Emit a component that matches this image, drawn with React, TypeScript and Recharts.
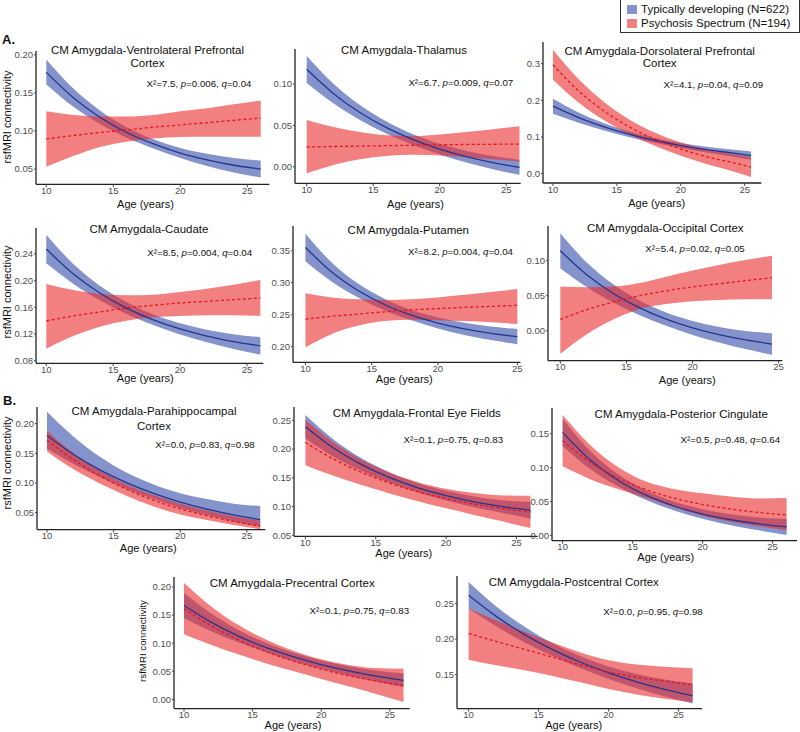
import React from 'react';
import { ComposedChart, Area, Line, XAxis, YAxis } from 'recharts';

const FONT = '"Liberation Sans", Arial, Helvetica, sans-serif';
const TD_FILL = '#344BAA';
const PS_FILL = '#EB2B2B';
const TD_LINE = '#24358C';
const PS_LINE = '#E8141C';

const ages = [10, 12, 14, 16, 18, 20, 22, 24, 26];
const agesDlpfc = [10, 12, 14, 16, 18, 20, 22, 24, 25.5];

// A. CM Amygdala-Ventrolateral Prefrontal Cortex
const vlpfcTdMean = [0.177, 0.144, 0.118, 0.098, 0.083, 0.071, 0.062, 0.055, 0.05];
const vlpfcTdLo = [0.161, 0.132, 0.109, 0.091, 0.077, 0.0645, 0.054, 0.0455, 0.039];
const vlpfcTdHi = [0.194, 0.156, 0.127, 0.105, 0.089, 0.0775, 0.07, 0.0645, 0.061];
const vlpfcPsMean = [0.0895, 0.094, 0.098, 0.1015, 0.105, 0.108, 0.111, 0.114, 0.117];
const vlpfcPsLo = [0.053, 0.067, 0.079, 0.086, 0.09, 0.092, 0.0925, 0.0925, 0.0925];
const vlpfcPsHi = [0.126, 0.121, 0.119, 0.119, 0.121, 0.126, 0.13, 0.135, 0.14];

// Thalamus
const thalTdMean = [0.1178, 0.0887, 0.0656, 0.0473, 0.0328, 0.0213, 0.0122, 0.005, -0.0007];
const thalTdLo = [0.1013, 0.0767, 0.0566, 0.0398, 0.0263, 0.0148, 0.0052, -0.003, -0.0097];
const thalTdHi = [0.134, 0.1007, 0.0746, 0.0548, 0.0393, 0.0278, 0.0192, 0.013, 0.0083];
const thalPsMean = [0.024, 0.0245, 0.025, 0.0255, 0.026, 0.0265, 0.027, 0.0272, 0.0275];
const thalPsLo = [-0.008, 0.002, 0.009, 0.013, 0.0145, 0.0135, 0.0115, 0.009, 0.0065];
const thalPsHi = [0.0564, 0.048, 0.042, 0.038, 0.037, 0.039, 0.042, 0.0455, 0.049];

// Dorsolateral Prefrontal Cortex
const dlpfcTdMean = [0.184, 0.153, 0.1277, 0.1071, 0.0903, 0.0766, 0.0655, 0.0564, 0.049];
const dlpfcTdLo = [0.1635, 0.139, 0.1177, 0.0991, 0.0833, 0.0696, 0.0575, 0.0469, 0.0375];
const dlpfcTdHi = [0.2045, 0.167, 0.1377, 0.1151, 0.0973, 0.0836, 0.0735, 0.0659, 0.0605];
const dlpfcPsMean = [0.297, 0.2258, 0.1703, 0.127, 0.0932, 0.0669, 0.0464, 0.0304, 0.0179];
const dlpfcPsLo = [0.256, 0.1938, 0.1453, 0.107, 0.0752, 0.0489, 0.0264, 0.0074, -0.0091];
const dlpfcPsHi = [0.338, 0.2578, 0.1953, 0.147, 0.1112, 0.0849, 0.0664, 0.0534, 0.0449];

// Caudate
const caudTdMean = [0.2475, 0.2104, 0.1815, 0.1589, 0.1413, 0.1276, 0.1169, 0.1086, 0.1021];
const caudTdLo = [0.226, 0.1954, 0.1705, 0.1499, 0.1333, 0.1191, 0.1074, 0.0976, 0.0891];
const caudTdHi = [0.269, 0.2254, 0.1925, 0.1679, 0.1493, 0.1361, 0.1264, 0.1196, 0.1151];
const caudPsMean = [0.1395, 0.147, 0.153, 0.159, 0.163, 0.1665, 0.169, 0.1715, 0.174];
const caudPsLo = [0.098, 0.117, 0.131, 0.14, 0.145, 0.147, 0.148, 0.148, 0.147];
const caudPsHi = [0.195, 0.186, 0.18, 0.178, 0.179, 0.183, 0.188, 0.194, 0.201];

// Putamen
const putTdMean = [0.355, 0.3163, 0.2873, 0.2655, 0.2492, 0.237, 0.2278, 0.2209, 0.2157];
const putTdLo = [0.3335, 0.3013, 0.2763, 0.2565, 0.2412, 0.2285, 0.2183, 0.2104, 0.2037];
const putTdHi = [0.3765, 0.3313, 0.2983, 0.2745, 0.2572, 0.2455, 0.2373, 0.2314, 0.2277];
const putPsMean = [0.243, 0.2475, 0.251, 0.2545, 0.2575, 0.2595, 0.2615, 0.263, 0.2647];
const putPsLo = [0.199, 0.22, 0.233, 0.24, 0.242, 0.2415, 0.24, 0.238, 0.2355];
const putPsHi = [0.2836, 0.277, 0.274, 0.273, 0.274, 0.277, 0.281, 0.2855, 0.29];

// Occipital Cortex
const occTdMean = [0.1143, 0.0799, 0.0532, 0.0325, 0.0164, 0.0039, -0.0058, -0.0133, -0.0191];
const occTdLo = [0.0893, 0.0624, 0.0402, 0.022, 0.0069, -0.0061, -0.0168, -0.0263, -0.0346];
const occTdHi = [0.1393, 0.0974, 0.0662, 0.043, 0.0259, 0.0139, 0.0052, -0.0003, -0.0036];
const occPsMean = [0.016, 0.03, 0.041, 0.05, 0.057, 0.0625, 0.067, 0.0715, 0.0757];
const occPsLo = [-0.033, -0.005, 0.016, 0.031, 0.038, 0.042, 0.044, 0.0448, 0.045];
const occPsHi = [0.063, 0.062, 0.063, 0.068, 0.077, 0.086, 0.094, 0.101, 0.107];

// B. Parahippocampal Cortex
const phcTdMean = [0.18, 0.1479, 0.1216, 0.1, 0.0823, 0.0678, 0.0559, 0.0461, 0.0381];
const phcTdLo = [0.158, 0.1319, 0.1096, 0.09, 0.0728, 0.0583, 0.0459, 0.0351, 0.0261];
const phcTdHi = [0.22, 0.1779, 0.1436, 0.117, 0.0973, 0.0828, 0.0729, 0.0651, 0.0611];
const phcPsMean = [0.172, 0.1389, 0.1116, 0.089, 0.0708, 0.0563, 0.0449, 0.0351, 0.0271];
const phcPsLo = [0.153, 0.1229, 0.0986, 0.078, 0.0603, 0.047, 0.0375, 0.029, 0.022];
const phcPsHi = [0.188, 0.15, 0.12, 0.097, 0.0795, 0.065, 0.0535, 0.044, 0.0365];

// Frontal Eye Fields
const fefTdMean = [0.2388, 0.2017, 0.1728, 0.1502, 0.1326, 0.1189, 0.1082, 0.0999, 0.0934];
const fefTdLo = [0.2183, 0.1867, 0.1618, 0.1412, 0.1246, 0.1104, 0.0987, 0.0889, 0.0789];
const fefTdHi = [0.2593, 0.2167, 0.1838, 0.1592, 0.1406, 0.1274, 0.1177, 0.1109, 0.1079];
const fefPsMean = [0.2115, 0.1825, 0.1593, 0.1407, 0.1258, 0.1139, 0.1044, 0.0968, 0.0907];
const fefPsLo = [0.172, 0.1535, 0.1373, 0.1227, 0.1093, 0.0969, 0.0854, 0.0743, 0.0627];
const fefPsHi = [0.251, 0.2115, 0.1813, 0.1587, 0.1423, 0.1309, 0.1234, 0.1193, 0.1187];

// Posterior Cingulate
const pccTdMean = [0.152, 0.1107, 0.0807, 0.0589, 0.043, 0.0315, 0.0231, 0.017, 0.0126];
const pccTdLo = [0.132, 0.0977, 0.0717, 0.0519, 0.0365, 0.0245, 0.0151, 0.0075, 0.0006];
const pccTdHi = [0.172, 0.1237, 0.0897, 0.0659, 0.0495, 0.0385, 0.0311, 0.0265, 0.0246];
const pccPsMean = [0.1397, 0.1076, 0.0842, 0.0671, 0.0546, 0.0455, 0.0388, 0.0339, 0.0303];
const pccPsLo = [0.1019, 0.0826, 0.0682, 0.0551, 0.0411, 0.029, 0.0203, 0.0134, 0.0077];
const pccPsHi = [0.1775, 0.1326, 0.1002, 0.0791, 0.0681, 0.062, 0.0573, 0.0544, 0.055];

// Precentral Cortex
const precTdMean = [0.167, 0.1369, 0.1122, 0.092, 0.0754, 0.0618, 0.0506, 0.0414, 0.0339];
const precTdLo = [0.1445, 0.1209, 0.1012, 0.0835, 0.0679, 0.0543, 0.0421, 0.0314, 0.0219];
const precTdHi = [0.1895, 0.1529, 0.1232, 0.1005, 0.0829, 0.0693, 0.0591, 0.0514, 0.0459];
const precPsMean = [0.1615, 0.1309, 0.1057, 0.085, 0.0679, 0.0538, 0.0421, 0.0326, 0.0249];
const precPsLo = [0.116, 0.0969, 0.0797, 0.064, 0.0499, 0.0363, 0.0231, 0.0096, -0.0048];
const precPsHi = [0.207, 0.1649, 0.1317, 0.106, 0.0859, 0.0713, 0.0611, 0.0556, 0.0546];

// Postcentral Cortex
const postTdMean = [0.2617, 0.2316, 0.2063, 0.1851, 0.1673, 0.1523, 0.1397, 0.1291, 0.1202];
const postTdLo = [0.243, 0.2176, 0.1953, 0.1761, 0.1588, 0.1438, 0.1307, 0.1191, 0.1092];
const postTdHi = [0.2804, 0.2456, 0.2173, 0.1941, 0.1758, 0.1613, 0.1507, 0.1431, 0.1375];
const postPsMean = [0.208, 0.1965, 0.1855, 0.1745, 0.1635, 0.1535, 0.1465, 0.1405, 0.1359];
const postPsLo = [0.171, 0.163, 0.156, 0.148, 0.139, 0.1295, 0.122, 0.116, 0.111];
const postPsHi = [0.243, 0.226, 0.21, 0.195, 0.181, 0.17, 0.164, 0.161, 0.159];

const titles = [
  ['CM Amygdala-Ventrolateral Prefrontal', 'Cortex'],
  ['CM Amygdala-Thalamus'],
  ['CM Amygdala-Dorsolateral Prefrontal', 'Cortex'],
  ['CM Amygdala-Caudate'],
  ['CM Amygdala-Putamen'],
  ['CM Amygdala-Occipital Cortex'],
  ['CM Amygdala-Parahippocampal', 'Cortex'],
  ['CM Amygdala-Frontal Eye Fields'],
  ['CM Amygdala-Posterior Cingulate'],
  ['CM Amygdala-Precentral Cortex'],
  ['CM Amygdala-Postcentral Cortex'],
];
const chiSq = ['7.5', '6.7', '4.1', '8.5', '8.2', '5.4', '0.0', '0.1', '0.5', '0.1', '0.0'];
const pVals = ['0.006', '0.009', '0.04', '0.004', '0.004', '0.02', '0.83', '0.75', '0.48', '0.75', '0.95'];
const qVals = ['0.04', '0.07', '0.09', '0.04', '0.04', '0.05', '0.98', '0.83', '0.64', '0.83', '0.98'];
const legendLabels = ['Typically developing (N=622)', 'Psychosis Spectrum (N=194)'];

const series = [
  { x: ages, td: [vlpfcTdMean, vlpfcTdLo, vlpfcTdHi], ps: [vlpfcPsMean, vlpfcPsLo, vlpfcPsHi] },
  { x: ages, td: [thalTdMean, thalTdLo, thalTdHi], ps: [thalPsMean, thalPsLo, thalPsHi] },
  { x: agesDlpfc, td: [dlpfcTdMean, dlpfcTdLo, dlpfcTdHi], ps: [dlpfcPsMean, dlpfcPsLo, dlpfcPsHi] },
  { x: ages, td: [caudTdMean, caudTdLo, caudTdHi], ps: [caudPsMean, caudPsLo, caudPsHi] },
  { x: ages, td: [putTdMean, putTdLo, putTdHi], ps: [putPsMean, putPsLo, putPsHi] },
  { x: ages, td: [occTdMean, occTdLo, occTdHi], ps: [occPsMean, occPsLo, occPsHi] },
  { x: ages, td: [phcTdMean, phcTdLo, phcTdHi], ps: [phcPsMean, phcPsLo, phcPsHi] },
  { x: ages, td: [fefTdMean, fefTdLo, fefTdHi], ps: [fefPsMean, fefPsLo, fefPsHi] },
  { x: ages, td: [pccTdMean, pccTdLo, pccTdHi], ps: [pccPsMean, pccPsLo, pccPsHi] },
  { x: ages, td: [precTdMean, precTdLo, precTdHi], ps: [precPsMean, precPsLo, precPsHi] },
  { x: ages, td: [postTdMean, postTdLo, postTdHi], ps: [postPsMean, postPsLo, postPsHi] },
];

const T4 = [10, 15, 20, 25];

// panel geometry on the page (axis line positions) and where the texts sit
const layout = [
  { ax: 35.7, top: 51, right: 269, bottom: 184.3, xDom: [9.23, 26.64], xTicks: T4, yDom: [0.03, 0.205], yTicks: [0.05, 0.1, 0.15, 0.2], dec: 2, tX: 147.5, tY: [50.7, 64.3], sX: 199, sY: 84.3, lX: 145.5, lY: 204 },
  { ax: 295, top: 49, right: 520.7, bottom: 183.3, xDom: [9.12, 26.09], xTicks: T4, yDom: [-0.02, 0.1424], yTicks: [0, 0.05, 0.1], dec: 2, tX: 404, tY: [50.7], sX: 460.8, sY: 83.3, lX: 415.5, lY: 204 },
  { ax: 542.7, top: 41.7, right: 761, bottom: 182.7, xDom: [9.22, 26.3], xTicks: T4, yDom: [-0.0256, 0.359], yTicks: [0, 0.1, 0.2, 0.3], dec: 1, tX: 659.7, tY: [51.7, 64], sX: 713.3, sY: 85, lX: 656.7, lY: 203 },
  { ax: 35.7, top: 228, right: 263, bottom: 363.3, xDom: [9.23, 26.22], xTicks: T4, yDom: [0.076, 0.279], yTicks: [0.08, 0.12, 0.16, 0.2, 0.24], dec: 2, tX: 149, tY: [230], sX: 199.7, sY: 253.3, lX: 145.3, lY: 377.5 },
  { ax: 293.3, top: 226, right: 520.7, bottom: 362.3, xDom: [9.06, 26.23], xTicks: [10, 15, 20, 26], xLabels: ['10', '15', '20', '25'], yDom: [0.1756, 0.3886], yTicks: [0.2, 0.25, 0.3, 0.35], dec: 2, tX: 408.3, tY: [231], sX: 460.5, sY: 252.3, lX: 404.3, lY: 379 },
  { ax: 547.7, top: 226, right: 782, bottom: 360.7, xDom: [9.07, 26.78], xTicks: [10, 15, 20, 26.5], xLabels: ['10', '15', '20', '25'], yDom: [-0.0429, 0.1496], yTicks: [0, 0.05, 0.1], dec: 2, tX: 665.3, tY: [229], sX: 695, sY: 249.3, lX: 687.3, lY: 380 },
  { ax: 36.7, top: 406.7, right: 265, bottom: 529.3, xDom: [9.25, 26.38], xTicks: T4, yDom: [0.0214, 0.228], yTicks: [0.05, 0.1, 0.15, 0.2], dec: 2, tX: 154, tY: [412.3, 426.7], sX: 205, sY: 445, lX: 148.3, lY: 548.3 },
  { ax: 294.3, top: 406.7, right: 538, bottom: 536, xDom: [9.19, 26.51], xTicks: T4, yDom: [0.0483, 0.2731], yTicks: [0.05, 0.1, 0.15, 0.2, 0.25], dec: 2, tX: 416.8, tY: [414.3], sX: 453.3, sY: 440, lX: 403.8, lY: 553 },
  { ax: 551.7, top: 408.3, right: 796.7, bottom: 541, xDom: [9.24, 26.74], xTicks: T4, yDom: [-0.0078, 0.1879], yTicks: [0, 0.05, 0.1, 0.15], dec: 2, tX: 681.2, tY: [415], sX: 730.3, sY: 440, lX: 665.8, lY: 557 },
  { ax: 174.3, top: 576.7, right: 410, bottom: 708.3, xDom: [9.27, 26.45], xTicks: T4, yDom: [-0.0165, 0.2178], yTicks: [0, 0.05, 0.1, 0.15, 0.2], dec: 2, tX: 292.2, tY: [584], sX: 359.3, sY: 610.7, lX: 293, lY: 725 },
  { ax: 456.7, top: 575.7, right: 701.7, bottom: 708.3, xDom: [9.17, 26.67], xTicks: T4, yDom: [0.102, 0.2889], yTicks: [0.15, 0.2, 0.25], dec: 2, tX: 573.8, tY: [582.7], sX: 653, sY: 611.7, lX: 573.7, lY: 725 },
];

const centered: React.CSSProperties = {
  position: 'absolute',
  transform: 'translate(-50%, -50%)',
  whiteSpace: 'nowrap',
  lineHeight: 1,
  color: '#111',
  fontWeight: 'normal',
};

const Y_W = 40;
const M_TOP = 4;
const X_H = 22;
const M_RIGHT = 4;

function Panel({ idx }: { idx: number }) {
  const g: any = layout[idx];
  const s = series[idx];
  const data = s.x.map((a, k) => ({
    age: a,
    tdBand: [s.td[1][k], s.td[2][k]],
    tdMean: s.td[0][k],
    psBand: [s.ps[1][k], s.ps[2][k]],
    psMean: s.ps[0][k],
  }));
  const width = g.right - g.ax + Y_W + M_RIGHT;
  const height = g.bottom - g.top + M_TOP + X_H;
  const xFmt = (v: number) => {
    const i = g.xTicks.indexOf(v);
    return g.xLabels && i >= 0 ? g.xLabels[i] : String(v);
  };
  return (
    <div style={{ position: 'absolute', left: g.ax - Y_W, top: g.top - M_TOP }}>
      <ComposedChart width={width} height={height} data={data} margin={{ top: M_TOP, right: M_RIGHT, bottom: 0, left: 0 }}>
        <XAxis
          dataKey="age"
          type="number"
          domain={g.xDom}
          ticks={g.xTicks}
          interval={0}
          allowDataOverflow
          height={X_H}
          tickSize={3}
          tickMargin={0}
          tickFormatter={xFmt}
          axisLine={{ stroke: '#222', strokeWidth: 1.3 }}
          tickLine={{ stroke: '#444' }}
          tick={{ fill: '#4d4d4d', fontSize: 9.5 }}
        />
        <YAxis
          type="number"
          domain={g.yDom}
          ticks={g.yTicks}
          interval={0}
          allowDataOverflow
          width={Y_W}
          tickSize={2}
          tickMargin={1}
          tickFormatter={(v: number) => v.toFixed(g.dec)}
          axisLine={{ stroke: '#222', strokeWidth: 1.3 }}
          tickLine={{ stroke: '#444' }}
          tick={{ fill: '#4d4d4d', fontSize: 9.5 }}
        />
        <Area dataKey="tdBand" type="monotone" stroke="none" fill={TD_FILL} fillOpacity={0.6} dot={false} activeDot={false} isAnimationActive={false} />
        <Line dataKey="tdMean" type="monotone" stroke={TD_LINE} strokeWidth={1.3} dot={false} activeDot={false} isAnimationActive={false} />
        <Area dataKey="psBand" type="monotone" stroke="none" fill={PS_FILL} fillOpacity={0.6} dot={false} activeDot={false} isAnimationActive={false} />
        <Line dataKey="psMean" type="monotone" stroke={PS_LINE} strokeWidth={1.3} strokeDasharray="3 2.5" dot={false} activeDot={false} isAnimationActive={false} />
      </ComposedChart>
    </div>
  );
}

function PanelText({ idx }: { idx: number }) {
  const g: any = layout[idx];
  return (
    <>
      {titles[idx].map((line, k) => (
        <div key={k} style={{ ...centered, left: g.tX, top: g.tY[k], fontSize: 11.5 }}>{line}</div>
      ))}
      <div style={{ ...centered, left: g.sX, top: g.sY, fontSize: 9.7 }}>
        X²={chiSq[idx]}, <i>p</i>={pVals[idx]}, <i>q</i>={qVals[idx]}
      </div>
      <div style={{ ...centered, left: g.lX, top: g.lY, fontSize: 11 }}>Age (years)</div>
    </>
  );
}

function YTitle({ x, y, size }: { x: number; y: number; size: number }) {
  return (
    <div style={{ ...centered, left: x, top: y, fontSize: size, transform: 'translate(-50%, -50%) rotate(-90deg)' }}>
      rsfMRI connectivity
    </div>
  );
}

export default function App() {
  return (
    <div style={{ position: 'absolute', left: 0, top: 0, width: 800, height: 732, background: '#fff', fontFamily: FONT, overflow: 'hidden' }}>
      {layout.map((_, i) => <Panel key={i} idx={i} />)}
      {layout.map((_, i) => <PanelText key={'t' + i} idx={i} />)}
      <YTitle x={7} y={117} size={11} />
      <YTitle x={7} y={292} size={11} />
      <YTitle x={7} y={463} size={11} />
      <YTitle x={143} y={641} size={9.7} />
      <div style={{ ...centered, transform: 'translateY(-50%)', left: 2, top: 39, fontSize: 13, fontWeight: 'bold' }}>A.</div>
      <div style={{ ...centered, transform: 'translateY(-50%)', left: 3, top: 400, fontSize: 13, fontWeight: 'bold' }}>B.</div>
      <div style={{ position: 'absolute', left: 620, top: -1, width: 180, height: 34, border: '1px solid #333', boxSizing: 'border-box' }}>
        {legendLabels.map((label, k) => (
          <React.Fragment key={label}>
            <div style={{ position: 'absolute', left: 6, top: 5 + k * 14, width: 10, height: 9, background: k === 0 ? TD_FILL : PS_FILL, opacity: 0.6 }} />
            <div style={{ position: 'absolute', left: 20, top: 10 + k * 14, transform: 'translateY(-50%)', fontSize: 11.5, lineHeight: 1, whiteSpace: 'nowrap', color: '#111' }}>
              {label}
            </div>
          </React.Fragment>
        ))}
      </div>
    </div>
  );
}
